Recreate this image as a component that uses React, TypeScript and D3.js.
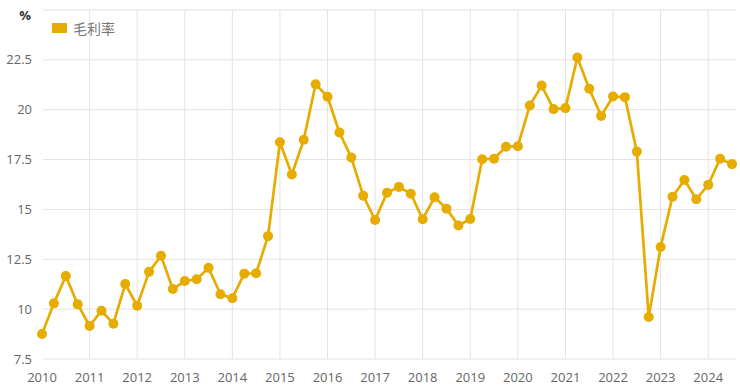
import React from "react";
import * as d3 from "d3";

const years = [2010, 2011, 2012, 2013, 2014, 2015, 2016, 2017, 2018, 2019, 2020, 2021, 2022, 2023, 2024];
const yTicks = [7.5, 10, 12.5, 15, 17.5, 20, 22.5];
const seriesName = "毛利率";
const unitLabel = "%";
const grossMargin = [
  8.75, 10.29, 11.66, 10.24,
  9.16, 9.92, 9.27, 11.26,
  10.17, 11.87, 12.68, 11.01,
  11.41, 11.5, 12.07, 10.75,
  10.55, 11.78, 11.8, 13.66,
  18.37, 16.75, 18.49, 21.28,
  20.65, 18.86, 17.6, 15.69,
  14.47, 15.84, 16.13, 15.79,
  14.51, 15.61, 15.04, 14.19,
  14.52, 17.52, 17.54, 18.14,
  18.17, 20.21, 21.21, 20.03,
  20.08, 22.62, 21.05, 19.69,
  20.66, 20.63, 17.9, 9.61,
  13.12, 15.64, 16.48, 15.51,
  16.23, 17.54, 17.27,
];

const W = 740;
const H = 391;
const COLOR = "#e6ac00";
const FONT = "'Open Sans', 'Noto Sans CJK SC', sans-serif";

export default function App() {
  const x = d3.scaleLinear().domain([2010, 2024.5]).range([42, 732]);
  const y = d3.scaleLinear().domain([7.5, 25]).range([359, 10]);
  const pts = grossMargin.map((v, i) => ({ t: 2010 + i * 0.25, v }));
  const line = d3
    .line<{ t: number; v: number }>()
    .x((d) => x(d.t))
    .y((d) => y(d.v));
  const gridY = [...yTicks, 25];

  return (
    <svg
      width={W}
      height={H}
      style={{ position: "fixed", left: 0, top: 0, display: "block", background: "#fff" }}
      fontFamily={FONT}
    >
      {gridY.map((t) => (
        <line key={"h" + t} x1={43} x2={736} y1={y(t)} y2={y(t)} stroke="#e3e3e3" strokeWidth={1} />
      ))}
      {years.slice(1).map((yr) => (
        <line key={"v" + yr} x1={x(yr)} x2={x(yr)} y1={10} y2={359} stroke="#e3e3e3" strokeWidth={1} />
      ))}
      {yTicks.map((t) => (
        <text key={"yl" + t} x={32} y={y(t)} dy="0.35em" textAnchor="end" fontSize={13} fill="#666">
          {t}
        </text>
      ))}
      {years.map((yr) => (
        <text key={"xl" + yr} x={x(yr)} y={377} dy="0.35em" textAnchor="middle" fontSize={13} fill="#666">
          {yr}
        </text>
      ))}
      <text x={25} y={15} dy="0.35em" textAnchor="middle" fontSize={13} fontWeight="bold" fill="#333">
        {unitLabel}
      </text>
      <rect x={52} y={23} width={15} height={10} fill={COLOR} />
      <text x={73} y={29} dy="0.35em" fontSize={14} fill="#777">
        {seriesName}
      </text>
      <path d={line(pts) || ""} fill="none" stroke={COLOR} strokeWidth={2.7} strokeLinejoin="round" />
      {pts.map((p, i) => (
        <circle key={i} cx={x(p.t)} cy={y(p.v)} r={5} fill={COLOR} />
      ))}
    </svg>
  );
}
